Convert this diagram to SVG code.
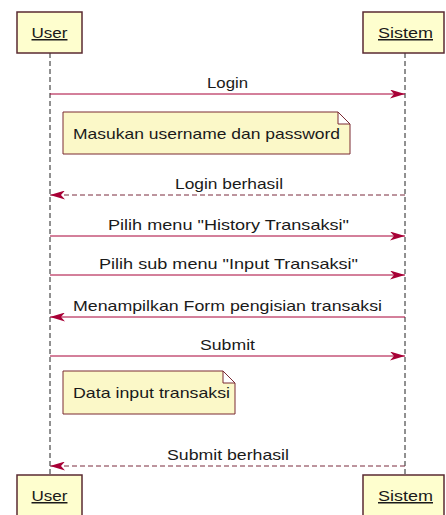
<svg xmlns="http://www.w3.org/2000/svg" width="446" height="515" viewBox="0 0 446 515">
  <defs>
    <marker id="head" viewBox="0 0 15 9" refX="15" refY="4.5" markerWidth="15" markerHeight="9" markerUnits="userSpaceOnUse" orient="auto">
      <polygon points="0,0 15,4.5 0,9 4,4.5" fill="#A80036"/>
    </marker>
  </defs>
  <style>
    text { font-family: "Liberation Sans", Arial, sans-serif; font-size: 15px; fill: #1a1a1a; }
    .msg { text-anchor: middle; }
    .participant rect { fill: #FEFECE; stroke: #5a2a32; stroke-width: 1.5; }
    .participant text { text-anchor: middle; text-decoration: underline; }
    .lifeline { stroke: #222; stroke-width: 1; stroke-dasharray: 5 3; fill: none; }
    .call { stroke: #A80036; stroke-width: 1; fill: none; marker-end: url(#head); }
    .reply { stroke: #7a2a3c; stroke-width: 1; stroke-dasharray: 5 3; fill: none; marker-end: url(#head); }
    .note path { fill: #FBF8C8; stroke: #7a2a32; stroke-width: 1; }
  </style>

  <rect width="446" height="515" fill="#ffffff"/>

  <!-- lifelines -->
  <g id="lifelines">
    <line class="lifeline" x1="50" y1="53" x2="50" y2="475"/>
    <line class="lifeline" x1="405" y1="53" x2="405" y2="475"/>
  </g>

  <!-- participants, head and foot -->
  <g id="user-head" class="participant">
    <rect x="17" y="12" width="65" height="41"/>
    <text x="49.5" y="38" textLength="36" lengthAdjust="spacingAndGlyphs">User</text>
  </g>
  <g id="sistem-head" class="participant">
    <rect x="363" y="12" width="81" height="41"/>
    <text x="405.5" y="38" textLength="55" lengthAdjust="spacingAndGlyphs">Sistem</text>
  </g>
  <g id="user-foot" class="participant">
    <rect x="17" y="475" width="65" height="41"/>
    <text x="49.5" y="501" textLength="36" lengthAdjust="spacingAndGlyphs">User</text>
  </g>
  <g id="sistem-foot" class="participant">
    <rect x="363" y="475" width="81" height="41"/>
    <text x="405.5" y="501" textLength="55" lengthAdjust="spacingAndGlyphs">Sistem</text>
  </g>

  <!-- notes -->
  <g id="note-login" class="note">
    <path d="M63,112 H338 L350,124 V154 H63 Z M338,112 V124 H350"/>
    <text x="73" y="139" textLength="267" lengthAdjust="spacingAndGlyphs">Masukan username dan password</text>
  </g>
  <g id="note-input" class="note">
    <path d="M63,371 H223 L235,383 V414 H63 Z M223,371 V383 H235"/>
    <text x="73" y="398" textLength="157" lengthAdjust="spacingAndGlyphs">Data input transaksi</text>
  </g>

  <!-- messages -->
  <g id="connectors">
    <line class="call" x1="50" y1="94" x2="405" y2="94"/>
    <text class="msg" x="227.5" y="88" textLength="41" lengthAdjust="spacingAndGlyphs">Login</text>

    <line class="reply" x1="405" y1="195" x2="50" y2="195"/>
    <text class="msg" x="229" y="189" textLength="108" lengthAdjust="spacingAndGlyphs">Login berhasil</text>

    <line class="call" x1="50" y1="236" x2="405" y2="236"/>
    <text class="msg" x="228.5" y="230" textLength="241" lengthAdjust="spacingAndGlyphs">Pilih menu "History Transaksi"</text>

    <line class="call" x1="50" y1="275" x2="405" y2="275"/>
    <text class="msg" x="228.5" y="269" textLength="259" lengthAdjust="spacingAndGlyphs">Pilih sub menu "Input Transaksi"</text>

    <line class="call" x1="405" y1="317" x2="50" y2="317"/>
    <text class="msg" x="227.5" y="311" textLength="309" lengthAdjust="spacingAndGlyphs">Menampilkan Form pengisian transaksi</text>

    <line class="call" x1="50" y1="356" x2="405" y2="356"/>
    <text class="msg" x="227.5" y="350" textLength="55" lengthAdjust="spacingAndGlyphs">Submit</text>

    <line class="reply" x1="405" y1="466" x2="50" y2="466"/>
    <text class="msg" x="228" y="460" textLength="122" lengthAdjust="spacingAndGlyphs">Submit berhasil</text>
  </g>
</svg>
